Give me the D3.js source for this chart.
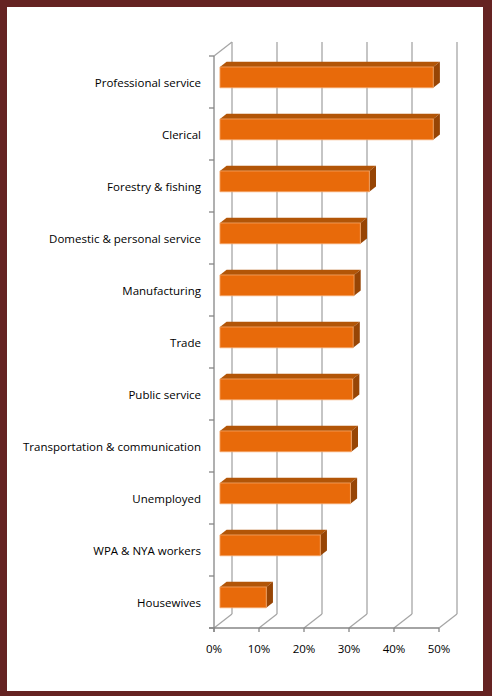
<!DOCTYPE html>
<html lang="en">

<head>
    <meta charset="UTF-8">
    <title>3D Bar Chart</title>
    <script src="https://d3js.org/d3.v7.min.js"></script>
    <style>
        body { margin: 0; }
        .grid { stroke: #a6a6a6; stroke-width: 1.3px; fill: none; }
        .axis-line { stroke: #868686; stroke-width: 1.3px; fill: none; }
        text { font-family: "Open Sans", sans-serif; font-size: 11.5px; fill: #000; }
    </style>
</head>

<body>

    <script>
        // Chart size
        const width = 492;
        const height = 696;

        // Data
        const categories = [
            'Professional service', 'Clerical', 'Forestry & fishing',
            'Domestic & personal service', 'Manufacturing', 'Trade',
            'Public service', 'Transportation & communication',
            'Unemployed', 'WPA & NYA workers', 'Housewives'
        ];
        const values = [0.474, 0.474, 0.332, 0.312, 0.298, 0.296, 0.295, 0.292, 0.290, 0.223, 0.103];
        const xTicks = [0, 0.1, 0.2, 0.3, 0.4, 0.5];

        // depth offset of the 3D box (front plane -> back wall)
        const DX = 18, DY = -14;
        const barT0 = 0.33, barT1 = 0.70;

        const svg = d3.select('body').append('svg')
            .attr('width', width)
            .attr('height', height);

        // Frame
        svg.append('rect')
            .attr('width', width).attr('height', height)
            .attr('fill', '#652322');
        svg.append('rect')
            .attr('x', 7).attr('y', 7)
            .attr('width', 476).attr('height', 684)
            .attr('fill', '#fff');

        const x = d3.scaleLinear().domain([0, 0.5]).range([214, 439]);
        const y = d3.scaleBand().domain(categories).range([56, 628]);
        const yTop = y.range()[0], yBot = y.range()[1];

        // Back wall gridlines and floor lines
        const grid = svg.append('g');
        xTicks.forEach(t => {
            grid.append('line').attr('class', 'grid')
                .attr('x1', x(t) + DX).attr('y1', yTop + DY)
                .attr('x2', x(t) + DX).attr('y2', yBot + DY);
            grid.append('line').attr('class', 'grid')
                .attr('x1', x(t)).attr('y1', yBot)
                .attr('x2', x(t) + DX).attr('y2', yBot + DY);
        });
        // Side wall top edge
        grid.append('line').attr('class', 'grid')
            .attr('x1', x(0)).attr('y1', yTop)
            .attr('x2', x(0) + DX).attr('y2', yTop + DY);

        // Left axis with ticks on band boundaries
        const axis = svg.append('g');
        axis.append('line').attr('class', 'axis-line')
            .attr('x1', x(0)).attr('y1', yTop)
            .attr('x2', x(0)).attr('y2', yBot + 4);
        const bounds = categories.map(c => y(c)).concat([yBot]);
        axis.selectAll('.ytick').data(bounds).enter().append('line')
            .attr('class', 'axis-line')
            .attr('x1', x(0) - 5).attr('x2', x(0))
            .attr('y1', d => d).attr('y2', d => d);

        // Bottom axis
        axis.append('line').attr('class', 'axis-line')
            .attr('x1', x(0) - 5).attr('y1', yBot)
            .attr('x2', x(0.5)).attr('y2', yBot);
        axis.selectAll('.xtick').data(xTicks).enter().append('line')
            .attr('class', 'axis-line')
            .attr('x1', d => x(d)).attr('x2', d => x(d))
            .attr('y1', yBot).attr('y2', yBot + 4);
        axis.selectAll('.xlabel').data(xTicks).enter().append('text')
            .attr('x', d => x(d))
            .attr('y', yBot + 25)
            .attr('text-anchor', 'middle')
            .text(d3.format('.0%'));

        // Category labels
        axis.selectAll('.ylabel').data(categories).enter().append('text')
            .attr('x', 201)
            .attr('y', d => y(d) + y.bandwidth() / 2 + 5)
            .attr('text-anchor', 'end')
            .text(d => d);

        // Bars
        const barH = y.bandwidth() * 0.4;
        const bars = svg.selectAll('.bar')
            .data(categories.map((c, i) => ({ c, v: values[i] })))
            .enter().append('g');

        function pt(xv, yv, t) {
            return [xv + t * DX, yv + t * DY];
        }

        bars.each(function (d) {
            const g = d3.select(this);
            const yc = y(d.c) + y.bandwidth() / 2;
            const y0 = yc - barH / 2, y1 = yc + barH / 2;
            const x0 = x(0), x1 = x(d.v);
            const line = d3.line();

            // top face
            g.append('path')
                .attr('d', line([pt(x0, y0, barT0), pt(x1, y0, barT0), pt(x1, y0, barT1), pt(x0, y0, barT1)]) + 'Z')
                .attr('fill', '#b25507');
            // right face
            g.append('path')
                .attr('d', line([pt(x1, y0, barT0), pt(x1, y0, barT1), pt(x1, y1, barT1), pt(x1, y1, barT0)]) + 'Z')
                .attr('fill', '#974505');
            // front face
            g.append('path')
                .attr('d', line([pt(x0, y0, barT0), pt(x1, y0, barT0), pt(x1, y1, barT0), pt(x0, y1, barT0)]) + 'Z')
                .attr('fill', '#e86a0a')
                .attr('stroke', '#f5a76a')
                .attr('stroke-width', 0.8);
        });

    </script>

</body>

</html>
